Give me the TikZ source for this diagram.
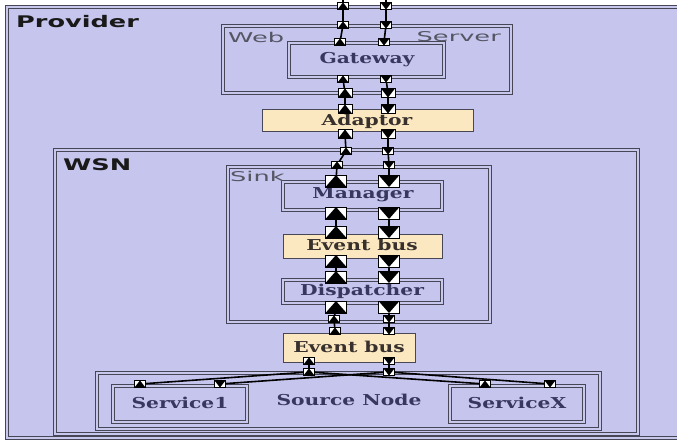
\documentclass[tikz,border=0pt]{standalone}
\usepackage{fontspec}
\newfontfamily\lblsans[FakeStretch=1.6]{DejaVu Sans}
\newfontfamily\lblsansr[FakeStretch=1.9]{DejaVu Sans}
\newfontfamily\lblserif[FakeStretch=1.35]{DejaVu Serif}
\definecolor{lav}{RGB}{197,197,237}
\definecolor{dgap}{RGB}{200,200,236}
\definecolor{bord}{RGB}{70,70,86}
\definecolor{ylw}{RGB}{252,232,192}
\definecolor{txtb}{RGB}{55,55,95}
\definecolor{txty}{RGB}{55,48,45}
\definecolor{txtg}{RGB}{85,85,100}
\tikzset{
  dbox/.style={draw=bord, line width=1pt, double=dgap, double distance=1.6pt, fill=lav},
  ybox/.style={draw=bord, line width=1pt, fill=ylw},
  cname/.style={font=\lblsans\bfseries\fontsize{16}{18}\selectfont, text=black!90, inner sep=0pt, anchor=west},
  rname/.style={font=\lblsansr\fontsize{13.5}{15}\selectfont, text=txtg, inner sep=0pt},
  blab/.style={font=\lblserif\bfseries\fontsize{15}{17}\selectfont, text=txtb, inner sep=0pt},
  ylab/.style={font=\lblserif\bfseries\fontsize{15}{17}\selectfont, text=txty, inner sep=0pt},
  portbase/.style={draw=black, fill=white, line width=0.6pt, inner sep=0pt, outer sep=0pt},
  pup/.style={portbase, path picture={\fill[black] (path picture bounding box.south west) -- (path picture bounding box.south east) -- (path picture bounding box.north) -- cycle;}},
  pdn/.style={portbase, path picture={\fill[black] (path picture bounding box.north west) -- (path picture bounding box.north east) -- (path picture bounding box.south) -- cycle;}},
  bigp/.style={minimum width=21pt, minimum height=12pt},
  medp/.style={minimum width=14pt, minimum height=9pt},
  smlp/.style={minimum width=11pt, minimum height=7pt},
  wire/.style={draw=black, line width=1.6pt},
}
\begin{document}
\begin{tikzpicture}[x=1pt,y=-1pt]
\useasboundingbox (0,0) rectangle (677,441);
\clip (0,0) rectangle (677,441);
\fill[white] (0,0) rectangle (677,441);
% containers
\filldraw[dbox] (7,7) rectangle (700,438);
\filldraw[dbox] (223,26) rectangle (511,93);
\filldraw[dbox] (289,43) rectangle (444,77);
\filldraw[ybox] (262,110) rectangle (473,132);
\filldraw[dbox] (55,150) rectangle (638,434);
\filldraw[dbox] (228,167) rectangle (490,322);
\filldraw[dbox] (283,182) rectangle (442,210);
\filldraw[ybox] (283,234) rectangle (442,258);
\filldraw[dbox] (283,280) rectangle (442,303);
\filldraw[ybox] (283,333) rectangle (415,362);
\filldraw[dbox] (97,373) rectangle (600,429);
\filldraw[dbox] (113,386) rectangle (247,422);
\filldraw[dbox] (450,386) rectangle (584,422);
% labels
\node[cname] (tprov) at (16,22) {Provider};
\node[cname] (twsn) at (63,165) {WSN};
\node[rname, anchor=west] (tweb) at (228,37) {Web};
\node[rname, anchor=east] (tsrv) at (501,37) {Server};
\node[rname, anchor=west] (tsink) at (230,176) {Sink};
\node[blab] (tgw) at (367,60) {Gateway};
\node[ylab] (tad) at (367,121) {Adaptor};
\node[blab] (tman) at (363,195) {Manager};
\node[ylab] (teb1) at (362,245) {Event bus};
\node[blab] (tdis) at (362,291) {Dispatcher};
\node[ylab] (teb2) at (349,347) {Event bus};
\node[blab] (tsn) at (349,400) {Source Node};
\node[blab] (ts1) at (180,403) {Service1};
\node[blab] (tsx) at (517,403) {ServiceX};
% left (upward) ports
\node[pup,smlp] (a0) at (343,6) {};
\node[pup,smlp] (a1) at (343,25) {};
\node[pup,smlp] (a2) at (340,42) {};
\node[pup,smlp] (a3) at (343,79) {};
\node[pup,medp] (a4) at (345,93) {};
\node[pup,medp] (a5) at (345,109) {};
\node[pup,medp] (a6) at (345,134) {};
\node[pup,smlp] (a7) at (346,151) {};
\node[pup,smlp] (a8) at (337,165) {};
\node[pup,bigp] (a9) at (336,181) {};
\node[pup,bigp] (a10) at (336,213) {};
\node[pup,bigp] (a11) at (336,232) {};
\node[pup,bigp] (a12) at (336,261) {};
\node[pup,bigp] (a13) at (336,277) {};
\node[pup,bigp] (a14) at (336,307) {};
\node[pup,smlp] (a15) at (334,319) {};
\node[pup,smlp] (a16) at (335,331) {};
\node[pup,smlp] (a17) at (309,361) {};
\node[pup,smlp] (a18) at (309,372) {};
\node[pup,smlp] (s1a) at (140,384) {};
\node[pup,smlp] (sxa) at (485,384) {};
% right (downward) ports
\node[pdn,smlp] (b0) at (386,6) {};
\node[pdn,smlp] (b1) at (386,25) {};
\node[pdn,smlp] (b2) at (384,42) {};
\node[pdn,smlp] (b3) at (386,79) {};
\node[pdn,medp] (b4) at (388,93) {};
\node[pdn,medp] (b5) at (388,109) {};
\node[pdn,medp] (b6) at (388,134) {};
\node[pdn,smlp] (b7) at (388,151) {};
\node[pdn,smlp] (b8) at (389,165) {};
\node[pdn,bigp] (b9) at (389,181) {};
\node[pdn,bigp] (b10) at (389,213) {};
\node[pdn,bigp] (b11) at (389,232) {};
\node[pdn,bigp] (b12) at (389,261) {};
\node[pdn,bigp] (b13) at (389,277) {};
\node[pdn,bigp] (b14) at (389,307) {};
\node[pdn,smlp] (b15) at (389,319) {};
\node[pdn,smlp] (b16) at (389,331) {};
\node[pdn,smlp] (b17) at (389,361) {};
\node[pdn,smlp] (b18) at (389,372) {};
\node[pdn,smlp] (s1b) at (220,384) {};
\node[pdn,smlp] (sxb) at (550,384) {};
\coordinate (atop) at (343,-3);
\coordinate (btop) at (386,-3);
% wires
\draw[wire] (atop) -- (a0) -- (a1) -- (a2);
\draw[wire] (a3) -- (a4) -- (a5);
\draw[wire] (a6) -- (a7) -- (a8) -- (a9);
\draw[wire] (a10) -- (a11);
\draw[wire] (a12) -- (a13);
\draw[wire] (a14) -- (a15) -- (a16);
\draw[wire] (a17) -- (a18);
\draw[wire] (a18) -- (s1a);
\draw[wire] (a18) -- (sxa);
\draw[wire] (btop) -- (b0) -- (b1) -- (b2);
\draw[wire] (b3) -- (b4) -- (b5);
\draw[wire] (b6) -- (b7) -- (b8) -- (b9);
\draw[wire] (b10) -- (b11);
\draw[wire] (b12) -- (b13);
\draw[wire] (b14) -- (b15) -- (b16);
\draw[wire] (b17) -- (b18);
\draw[wire] (b18) -- (s1b);
\draw[wire] (b18) -- (sxb);
\end{tikzpicture}
\end{document}
